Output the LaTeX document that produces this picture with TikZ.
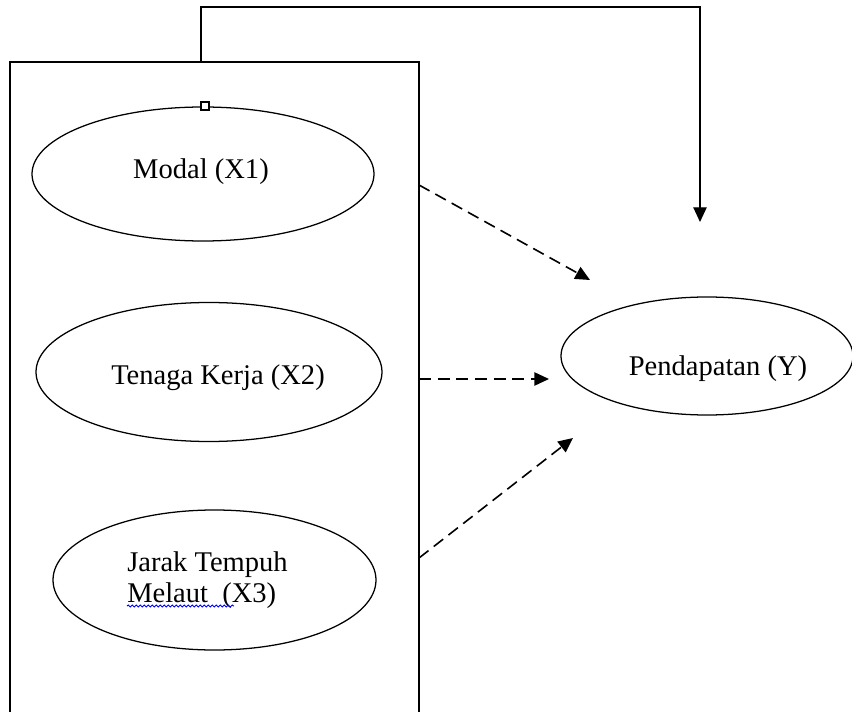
\documentclass[tikz,border=0pt]{standalone}
\usepackage{fontspec}
\setmainfont{Liberation Serif}
\usetikzlibrary{arrows.meta,positioning,shapes.geometric,decorations.pathmorphing}
\tikzset{
  var/.style={draw,ellipse,line width=0.95pt,inner sep=0pt},
  txt/.style={font=\fontsize{21.4}{23.25}\selectfont,inner sep=0pt,align=left},
  link/.style={-{Triangle[length=11pt,width=10pt]},line width=1pt},
  dlink/.style={link,line width=1.2pt,dash pattern=on 9pt off 5pt},
}
\begin{document}
\begin{tikzpicture}[x=0.75pt,y=-0.75pt]
\useasboundingbox (0,0) rectangle (852,712);
% frame round the three X variables (its bottom is cut off)
\draw[line width=1pt] (10,712)--(10,62)--(419,62)--(419,712);

\node[var,minimum width=256.5pt,minimum height=100.5pt] (modal) at (203,174) {};
\node[var,minimum width=259.5pt,minimum height=104.25pt] (tenaga) at (209,372) {};
\node[var,minimum width=242.25pt,minimum height=105pt] (jarak) at (214.5,580) {};
\node[var,minimum width=219pt,minimum height=88.5pt] (pendapatan) at (707,356) {};

\node[txt,anchor=base] (modaltxt) at (201,179) {Modal (X1)};
\node[txt,anchor=base] (tenagatxt) at (218,385) {Tenaga Kerja (X2)};
\node[txt,anchor=west] (jaraktxt) at (127,580) {Jarak Tempuh\\Melaut~~(X3)};
\node[txt,anchor=base] (pendapatantxt) at (718,376) {Pendapatan (Y)};
\draw[blue,line width=0.7pt,decorate,decoration={snake,amplitude=0.7pt,segment length=3pt}]
  (127,606)--(234,606);
\node[draw,fill=white,line width=0.8pt,minimum size=6pt,inner sep=0pt] (handle) at (205,106) {};

% connectors
\coordinate (t0) at (201,62);
\coordinate (e0) at (700,222);
\draw[link] (t0)--++(0,-55)-|(e0);

\coordinate (s1) at (419,185);
\coordinate (e1) at (590,280);
\coordinate (s2) at (419,379);
\coordinate (e2) at (549,379);
\coordinate (s3) at (419,558);
\coordinate (e3) at (573,438);
\foreach \i in {1,2,3}
{
    \draw[dlink] (s\i)--(e\i);
}
\end{tikzpicture}
\end{document}
